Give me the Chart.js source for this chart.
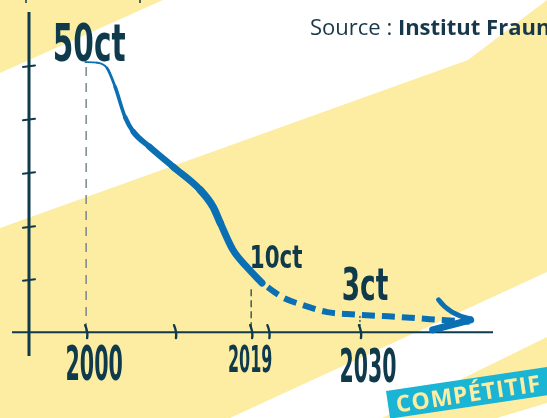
<!DOCTYPE html>
<html>
<head>
<meta charset="utf-8">
<title>Coût de l'électricité solaire</title>
<script src="https://cdn.jsdelivr.net/npm/chart.js@4/dist/chart.umd.min.js"></script>
<style>
  html, body { margin: 0; padding: 0; background: #fff; }
  canvas { display: block; }
</style>
</head>
<body>
<canvas id="chart" width="547" height="418"></canvas>
<script>
// Prix (centimes) - partie mesurée, puis tendance en pointillés
const pastYears = [2000.2, 2001.5, 2002.6, 2003.5, 2004.6, 2005.5, 2007.3, 2009.9, 2012.9, 2014.3, 2015.1, 2016.5, 2018.0, 2019.7];
const pastCents = [50, 49.9, 48.9, 45.4, 39.8, 37.1, 34.3, 30.6, 26.3, 23.2, 20.2, 15.2, 12.1, 9.1];
const trendYears = [2019.7, 2021.9, 2024.2, 2026.9, 2029.1, 2032.7, 2034.9, 2038.2, 2042.6];
const trendCents = [9.1, 6.5, 5.0, 3.7, 3.36, 3.0, 2.8, 2.4, 1.9];

// repères
const xTickYears = [2000.3, 2010.1, 2018.5, 2020.4, 2030.5];
const milestoneYears = [2000.3, 2018.5, 2030.5];
const milestoneLabels = ['2000', '2019', '2030'];
const priceValues = [50, 10, 3];
const priceLabels = ['50ct', '10ct', '3ct'];
const yTickValues = [49.3, 39.4, 29.5, 19.5, 9.7];

const BLUE = '#0B6FB3';
const INK = '#0E3A4C';
const YELLOW = '#FDEDA2';
const CYAN = '#1AB4D4';

// épaisseur du trait plein, segment par segment (effet feutre)
const pastWidths = [1.6, 2, 2.8, 3.6, 4.6, 5.6, 6.4, 7, 7.5, 7.5, 7, 7, 7];

function handText(ctx, text, cx, baseline, size, sx) {
  ctx.save();
  ctx.translate(cx, baseline);
  ctx.scale(sx, 1);
  ctx.font = 'bold ' + size + 'px "DejaVu Sans"';
  ctx.textAlign = 'center';
  ctx.textBaseline = 'alphabetic';
  ctx.fillStyle = INK;
  ctx.fillText(text, 0, 0);
  ctx.restore();
}

function fillPoly(ctx, pts, color) {
  ctx.beginPath();
  ctx.moveTo(pts[0][0], pts[0][1]);
  for (let i = 1; i < pts.length; i++) ctx.lineTo(pts[i][0], pts[i][1]);
  ctx.closePath();
  ctx.fillStyle = color;
  ctx.fill();
}

const backdrop = {
  id: 'backdrop',
  beforeDraw(chart) {
    const ctx = chart.ctx;
    ctx.save();
    ctx.fillStyle = '#fff';
    ctx.fillRect(0, 0, chart.width, chart.height);
    fillPoly(ctx, [[0, 0], [163, 0], [0, 73]], YELLOW);
    fillPoly(ctx, [[0, 228], [468, 60], [547, 0], [547, 272], [230, 418], [0, 418]], YELLOW);
    fillPoly(ctx, [[382, 418], [547, 337], [547, 403], [497, 418]], YELLOW);
    // bouts de traits coupés en haut
    ctx.strokeStyle = INK;
    ctx.lineWidth = 1.5;
    ctx.beginPath();
    ctx.moveTo(26, 0); ctx.lineTo(26, 3);
    ctx.moveTo(140, 0); ctx.lineTo(140, 3);
    ctx.stroke();
    ctx.restore();
  }
};

const axes = {
  id: 'axes',
  beforeDatasetsDraw(chart) {
    const ctx = chart.ctx;
    const xs = chart.scales.x, ys = chart.scales.y;
    const y0 = ys.getPixelForValue(0);
    ctx.save();

    // guides verticaux
    const guideStyles = [
      { top: 5, dash: [9, 7], color: '#6E8088', width: 1.4 },
      { top: 11, dash: [7, 4], color: INK, width: 1.2 },
      { top: 0, dash: [2, 2], color: INK, width: 1.2 }
    ];
    milestoneYears.forEach((yr, i) => {
      const g = guideStyles[i];
      const x = xs.getPixelForValue(yr);
      ctx.beginPath();
      ctx.setLineDash(g.dash);
      ctx.strokeStyle = g.color;
      ctx.lineWidth = g.width;
      ctx.moveTo(x, ys.getPixelForValue(priceValues[i]) + g.top);
      ctx.lineTo(x, y0);
      ctx.stroke();
    });
    ctx.setLineDash([]);

    // axes
    ctx.strokeStyle = INK;
    ctx.lineWidth = 2;
    ctx.beginPath();
    ctx.moveTo(12, y0); ctx.lineTo(493, y0);
    ctx.stroke();
    ctx.lineWidth = 3;
    ctx.beginPath();
    ctx.moveTo(29, 12); ctx.lineTo(29, 356);
    ctx.stroke();

    // graduations
    ctx.lineWidth = 2;
    ctx.lineCap = 'round';
    yTickValues.forEach(v => {
      const y = ys.getPixelForValue(v);
      ctx.beginPath();
      ctx.moveTo(23, y + 1); ctx.lineTo(35, y - 0.5);
      ctx.stroke();
    });
    ctx.lineWidth = 2.4;
    xTickYears.forEach(yr => {
      const x = xs.getPixelForValue(yr);
      ctx.beginPath();
      ctx.moveTo(x - 1, y0 - 7);
      ctx.quadraticCurveTo(x + 2, y0, x + 1, y0 + 6);
      ctx.stroke();
    });
    ctx.restore();
  }
};

const notes = {
  id: 'notes',
  afterDatasetsDraw(chart) {
    const ctx = chart.ctx;
    const xs = chart.scales.x, ys = chart.scales.y;

    // flèche au bout de la tendance
    const meta = chart.getDatasetMeta(1);
    const tip = meta.data[meta.data.length - 1];
    ctx.save();
    ctx.strokeStyle = BLUE;
    ctx.lineCap = 'round';
    ctx.lineWidth = 5;
    ctx.beginPath();
    ctx.moveTo(tip.x - 31, tip.y - 22);
    ctx.quadraticCurveTo(tip.x - 20, tip.y - 7, tip.x + 1, tip.y - 3);
    ctx.stroke();
    ctx.lineWidth = 7;
    ctx.beginPath();
    ctx.moveTo(tip.x - 37, tip.y + 8);
    ctx.lineTo(tip.x + 1, tip.y - 2);
    ctx.stroke();
    ctx.restore();

    // étiquettes manuscrites des prix
    const priceStyle = [
      { dx: 3, dy: -1, size: 51, sx: 0.58 },
      { dx: 25, dy: -10, size: 32, sx: 0.67 },
      { dx: 5, dy: -16, size: 44, sx: 0.6 }
    ];
    priceLabels.forEach((t, i) => {
      const s = priceStyle[i];
      handText(ctx, t, xs.getPixelForValue(milestoneYears[i]) + s.dx,
        ys.getPixelForValue(priceValues[i]) + s.dy, s.size, s.sx);
    });

    // années
    const yearStyle = [
      { dx: 8, base: 380, size: 48, sx: 0.43 },
      { dx: -1, base: 372, size: 38, sx: 0.42 },
      { dx: 8, base: 382, size: 46, sx: 0.445 }
    ];
    milestoneLabels.forEach((t, i) => {
      const s = yearStyle[i];
      handText(ctx, t, xs.getPixelForValue(milestoneYears[i]) + s.dx, s.base, s.size, s.sx);
    });

    // source
    ctx.save();
    ctx.fillStyle = '#17384A';
    ctx.textBaseline = 'alphabetic';
    ctx.font = '22px "Open Sans"';
    const lead = 'Source : ';
    ctx.fillText(lead, 310, 35);
    const w = ctx.measureText(lead).width;
    ctx.font = 'bold 22px "Open Sans"';
    ctx.fillText('Institut Fraunhofer', 310 + w, 35);
    ctx.restore();

    // bandeau
    ctx.save();
    ctx.translate(386, 391);
    ctx.rotate(-8.5 * Math.PI / 180);
    ctx.fillStyle = CYAN;
    ctx.fillRect(0, 0, 200, 28);
    ctx.fillStyle = YELLOW;
    ctx.font = 'bold 23px "Open Sans"';
    ctx.letterSpacing = '1px';
    ctx.fillText('COMPÉTITIF', 8, 23);
    ctx.restore();
  }
};

new Chart(document.getElementById('chart'), {
  type: 'line',
  data: {
    datasets: [
      {
        data: pastYears.map((x, i) => ({ x, y: pastCents[i] })),
        borderColor: BLUE,
        borderWidth: 7,
        borderCapStyle: 'round',
        borderJoinStyle: 'round',
        cubicInterpolationMode: 'monotone',
        pointRadius: 0,
        segment: {
          borderWidth: c => pastWidths[c.p0DataIndex]
        }
      },
      {
        data: trendYears.map((x, i) => ({ x, y: trendCents[i] })),
        borderColor: BLUE,
        borderWidth: 6,
        borderDash: [13, 7],
        borderDashOffset: 13,
        cubicInterpolationMode: 'monotone',
        pointRadius: 0
      }
    ]
  },
  options: {
    responsive: false,
    animation: false,
    devicePixelRatio: 1,
    layout: { padding: 0 },
    plugins: { legend: { display: false }, tooltip: { enabled: false } },
    scales: {
      x: { type: 'linear', min: 1990.8, max: 2051.13, display: false },
      y: { type: 'linear', min: -15.9, max: 61.5, display: false }
    }
  },
  plugins: [backdrop, axes, notes]
});
</script>
</body>
</html>
